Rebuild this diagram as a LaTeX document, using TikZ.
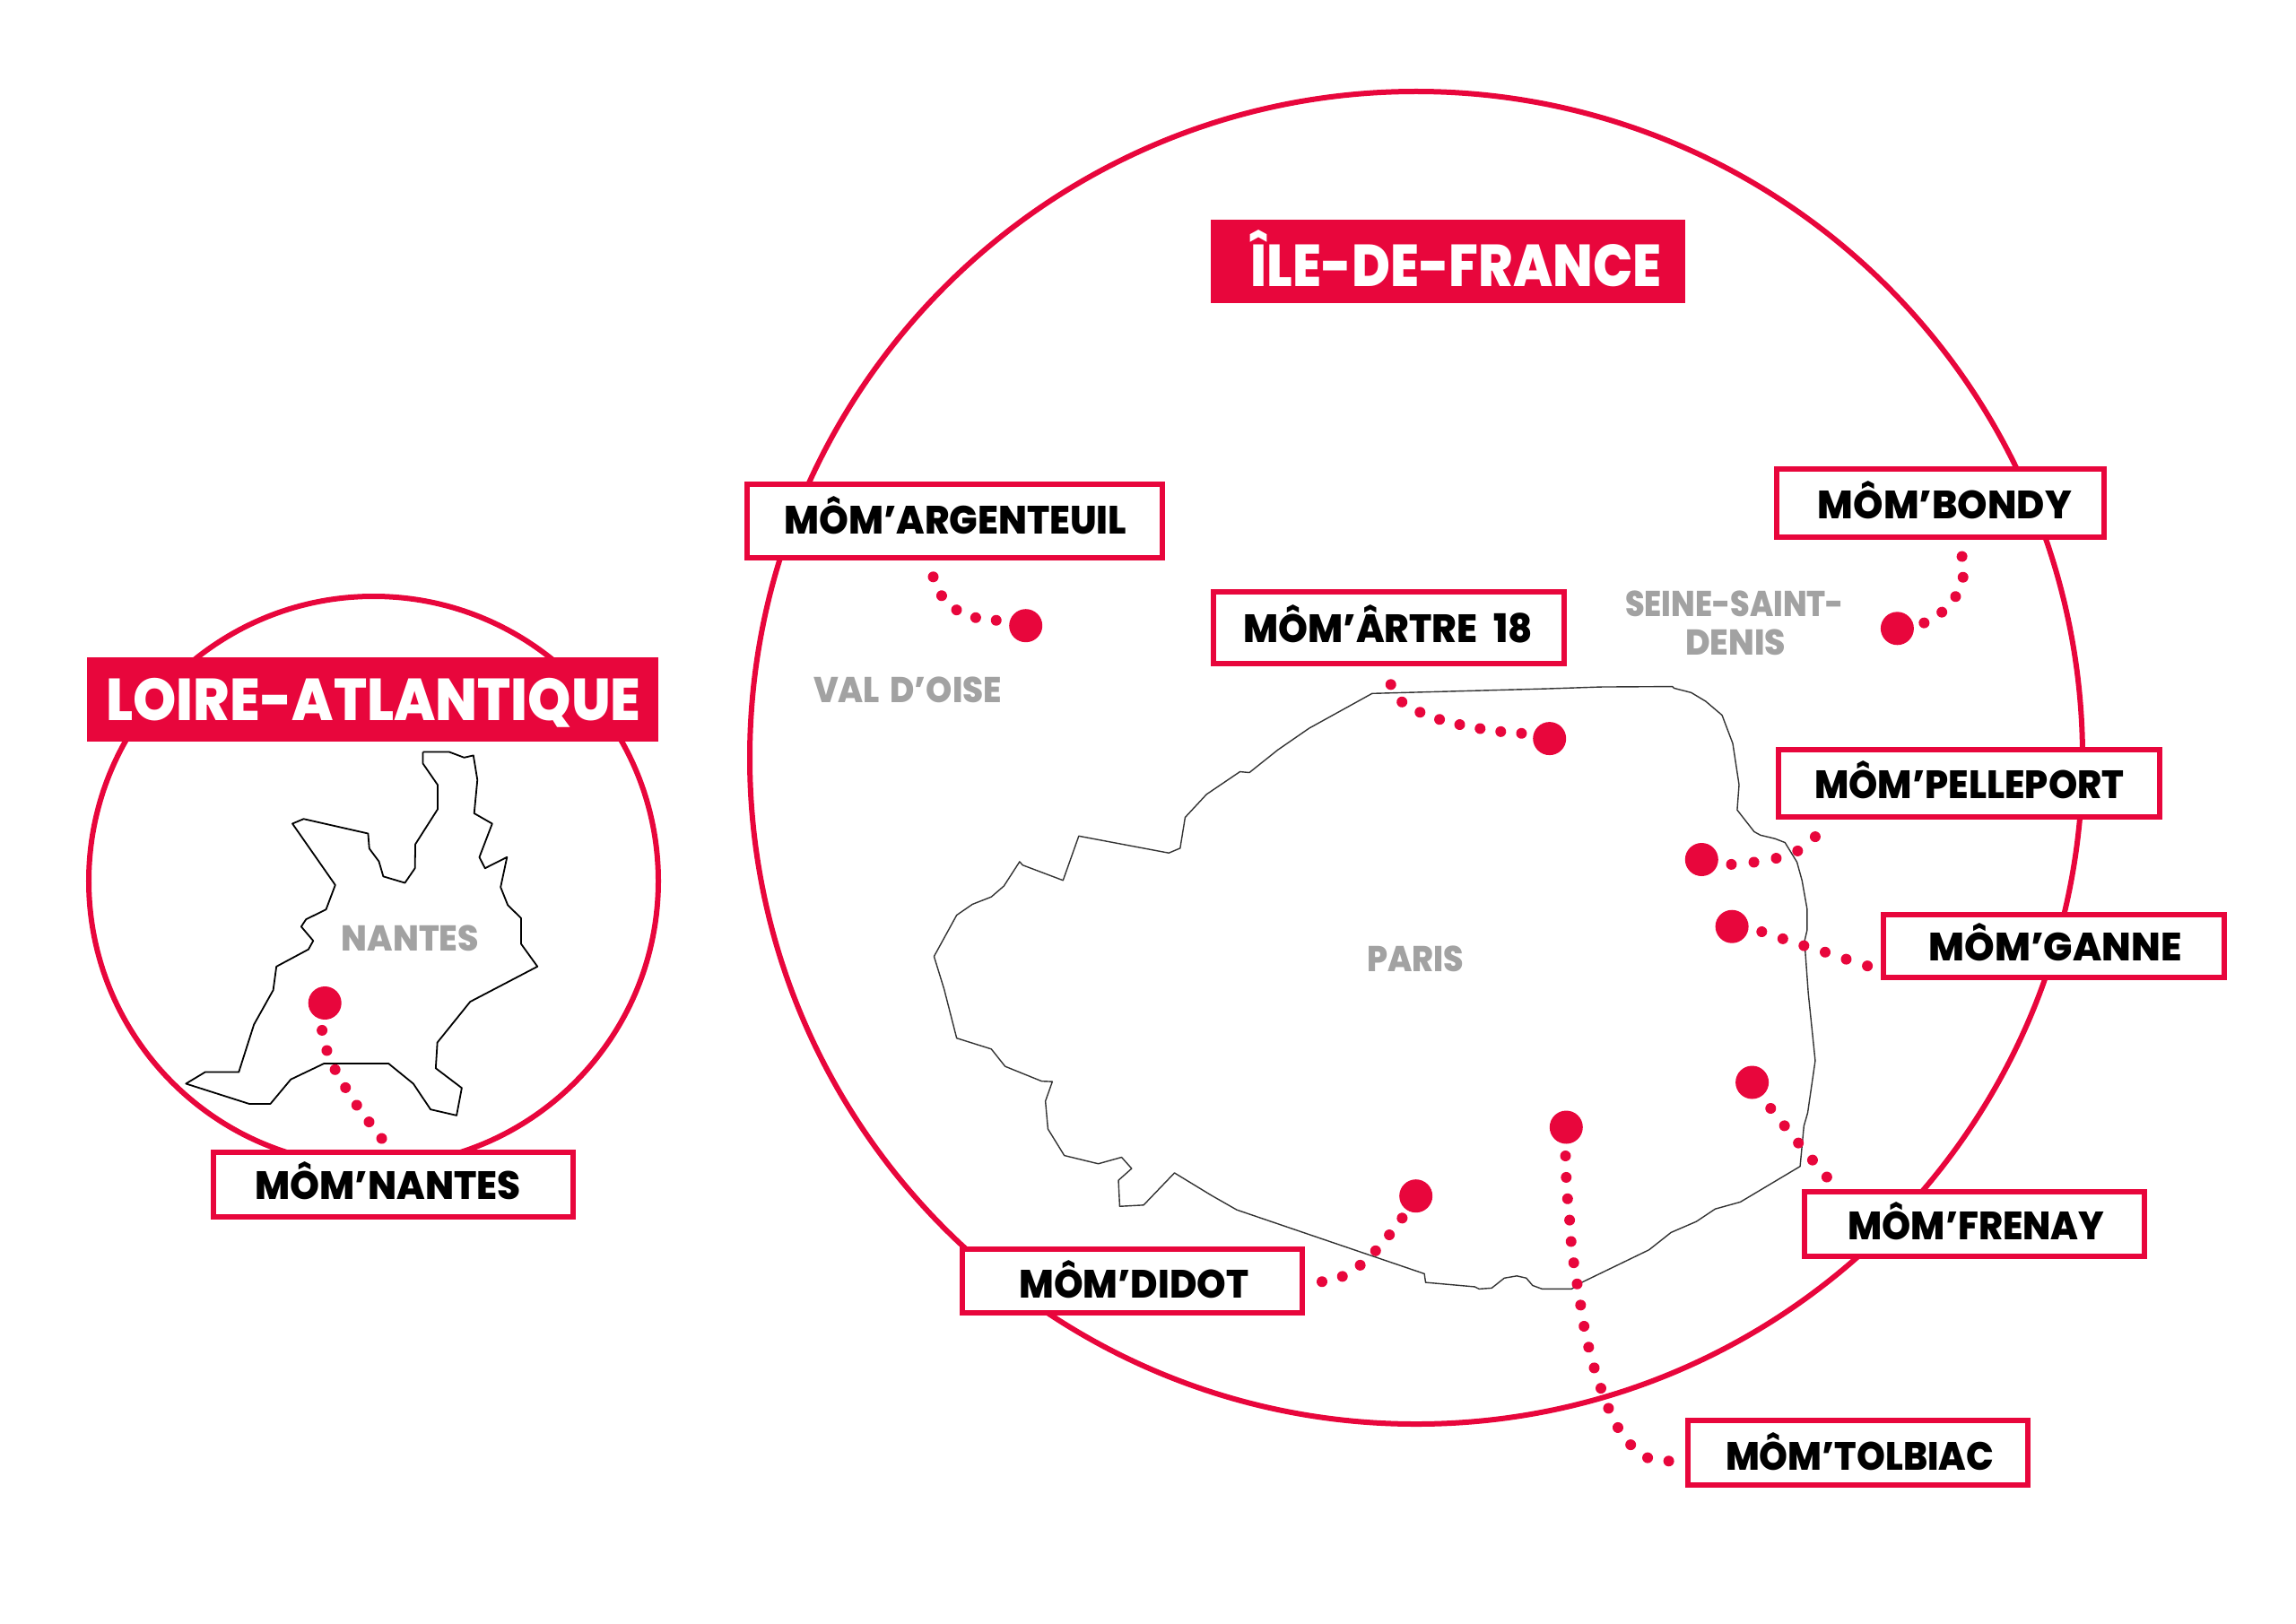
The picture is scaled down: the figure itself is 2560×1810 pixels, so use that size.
\documentclass[tikz,border=0pt]{standalone}
\usepackage{fontspec}
\usepackage{graphicx}
\setmainfont{Poppins}[BoldFont={Poppins ExtraBold}]
\definecolor{momred}{HTML}{E8063C}
\definecolor{momgrey}{HTML}{A2A2A2}
\newcommand{\momfit}[4]{\hspace*{#1bp}\resizebox{#2bp}{\height}{\fontsize{#3bp}{#3bp}\selectfont\bfseries #4}}
\tikzset{
  ring/.style={draw=momred,line width=6bp,circle,minimum size=#1,inner sep=0pt},
  momlabel/.style n args={3}{draw=momred,fill=white,line width=6bp,rectangle,inner sep=0pt,minimum width=#1,minimum height=#2,text height=#3,text depth=0pt,text=black},
  banner/.style n args={3}{fill=momred,rectangle,inner sep=0pt,minimum width=#1,minimum height=#2,text height=#3,text depth=0pt,text=white},
  placename/.style={text=momgrey,inner sep=0pt,anchor=base},
  pin/.style={fill=momred,circle,inner sep=0pt,minimum size=37bp},
  dotline/.style 2 args={draw=momred,line width=12bp,line cap=round,dash pattern=on 0.01bp off #1bp,dash phase=#2bp},
  mapline/.style={draw=#1,line join=round},
}
\begin{document}
\begin{tikzpicture}[x=1bp,y=-1bp]
\useasboundingbox (0,0) rectangle (2560,1810);
% rings
\node[ring=1486bp] (ringidf) at (1579,845) {};
\node[ring=635bp] (ringloire) at (416.5,982.5) {};
% Paris outline
\begin{scope}[shift={(1000,720)},x=0.7018bp,y=-0.4847bp]
\draw[mapline={black!80},line width=1.4bp] plot[sharp plot] coordinates {
(755,110) (1035,99) (1118,95) (1232,94) (1235,98) (1262,108) (1285,128) (1311,160) (1328,225) (1338,320) (1335,378) (1362,428) (1372,436) (1395,444) (1411,453) (1430,498) (1438,540) (1446,605) (1446,655) (1442,680) (1448,800) (1459,955) (1447,1075) (1441,1105) (1435,1198) (1340,1280) (1300,1296) (1270,1325) (1230,1350) (1195,1390) (1088,1465) (1072,1480) (1025,1480) (1010,1472) (1000,1455) (985,1450) (965,1455) (945,1478) (925,1480) (918,1475) (840,1465) (838,1445) (540,1298) (500,1265) (441,1213) (392,1287) (354,1290) (352,1230) (373,1203) (357,1177) (320,1192) (266,1173) (240,1112) (236,1048) (247,1003) (230,1002) (172,968) (150,928) (95,903) (75,790) (59,715) (95,620) (120,595) (150,578) (170,553) (195,497) (200,505) (264,540) (289,438) (432,477) (450,466) (458,395) (492,342) (545,290) (560,292) (605,240) (655,190) (755,110)};
\end{scope}
% Loire outline
\begin{scope}[shift={(60,640)},x=0.4464bp,y=-0.4785bp]
\draw[mapline=black,line width=1.8bp] plot[sharp plot] coordinates {
(922,415) (988,415) (1025,428) (1048,423) (1058,480) (1050,558) (1095,582) (1063,660) (1077,686) (1132,660) (1116,730) (1134,772) (1167,802) (1167,862) (1208,915) (1040,997) (958,1092) (954,1152) (1019,1198) (1006,1262) (941,1248) (898,1188) (836,1141) (675,1141) (592,1178) (541,1235) (488,1235) (330,1188) (378,1161) (462,1161) (500,1050) (548,970) (556,915) (636,875) (648,855) (618,822) (630,805) (680,782) (703,725) (596,582) (624,571) (785,605) (788,640) (812,670) (823,705) (877,720) (902,686) (903,630) (959,548) (959,492) (922,442) (922,415)};
\end{scope}
% banners
\node[banner={529bp}{92.7bp}{55.4bp}] (idf) at (1614.5,291.3) {\momfit{18}{458}{66}{ÎLE-DE-FRANCE}};
\node[banner={637bp}{94bp}{46bp}] (loire) at (415.5,780) {\momfit{2}{596}{66}{LOIRE-ATLANTIQUE}};
% labels
\node[momlabel={463.3bp}{81.7bp}{27.6bp}] (argenteuil) at (1064.7,581.2) {\momfit{1}{382}{44}{MÔM’ARGENTEUIL}};
\node[momlabel={390.7bp}{80.6bp}{33.4bp}] (artre) at (1548.3,700) {\momfit{-1}{323}{44}{MÔM’ÂRTRE\hspace{0.25em} 18}};
\node[momlabel={365bp}{76.5bp}{35.6bp}] (bondy) at (2163.9,560.8) {\momfit{9}{283}{44}{MÔM’BONDY}};
\node[momlabel={425bp}{74.7bp}{33.4bp}] (pelleport) at (2195.2,873.3) {\momfit{1}{345}{44}{MÔM’PELLEPORT}};
\node[momlabel={379.8bp}{70.4bp}{32.6bp}] (ganne) at (2290,1055.2) {\momfit{3}{282}{44}{MÔM’GANNE}};
\node[momlabel={379bp}{72bp}{34.8bp}] (frenay) at (2201,1365.3) {\momfit{5}{286}{44}{MÔM’FRENAY}};
\node[momlabel={379.6bp}{72bp}{38.4bp}] (tolbiac) at (2071.5,1620.3) {\momfit{4}{299}{44}{MÔM’TOLBIAC}};
\node[momlabel={379bp}{71bp}{38.8bp}] (didot) at (1262.3,1428.3) {\momfit{4}{256}{44}{MÔM’DIDOT}};
\node[momlabel={401bp}{72bp}{32bp}] (nantes) at (438.5,1321) {\momfit{-12}{296}{44}{MÔM’NANTES}};
% place names
\node[placename] (paris) at (1578,1083.5) {\momfit{0}{108}{40}{PARIS}};
\node[placename] (nantesname) at (457.5,1060.5) {\momfit{0}{153}{40}{NANTES}};
\node[placename] (valdoise) at (1012,783.5) {\momfit{0}{210}{40}{VAL\hspace{0.12em} D’OISE}};
\node[placename] (seine) at (1934,687) {\momfit{0}{244}{40}{SEINE-SAINT-}};
\node[placename] (denis) at (1935,730.5) {\momfit{0}{112}{40}{DENIS}};
% pins
\node[pin] (pinargenteuil) at (1143.7,697.7) {};
\node[pin] (pinartre) at (1727.7,823.6) {};
\node[pin] (pinbondy) at (2115.4,700.8) {};
\node[pin] (pinpelleport) at (1897.3,958.5) {};
\node[pin] (pinganne) at (1931.1,1033.2) {};
\node[pin] (pinfrenay) at (1953.6,1207) {};
\node[pin] (pintolbiac) at (1746.3,1257) {};
\node[pin] (pindidot) at (1578.7,1333.7) {};
\node[pin] (pinnantes) at (362.2,1118.5) {};
% free ends of the dotted connectors
\coordinate (endargenteuil) at (1040.3,642.7);
\coordinate (endartre) at (1550.4,762.7);
\coordinate (endbondy) at (2187.5,619.9);
\coordinate (endpelleport) at (2024.2,932.8);
\coordinate (endganne) at (2082.3,1077.2);
\coordinate (endfrenay) at (2037,1312.7);
\coordinate (endtolbiac) at (1861,1629.3);
\coordinate (enddidot) at (1473.9,1429.3);
\coordinate (endnantes) at (426,1270.1);
% dotted connectors
\draw[dotline={23.05}{12.6}] plot[smooth,tension=.5] coordinates {(pinargenteuil.center) (1110.7,691.7) (1087.7,688.7) (1066.3,680) (1049.7,664) (endargenteuil)};
\draw[dotline={23.2}{14.6}] plot[smooth,tension=.5] coordinates {(pinartre.center) (1696.4,817.8) (1672.8,815.8) (1649.9,812.4) (1626.9,807.9) (1604.6,802.1) (1582.3,793.8) (1562.5,782.2) (endartre)};
\draw[dotline={23.2}{15.8}] plot[smooth,tension=.5] coordinates {(pinbondy.center) (2145.4,694.6) (2165.2,682.6) (2180.5,665.1) (2188.8,643.2) (endbondy)};
\draw[dotline={25.25}{16.9}] plot[smooth,tension=.5] coordinates {(pinpelleport.center) (1930.5,963.9) (1956,961.4) (1981.5,956.8) (2005.1,948.5) (endpelleport)};
\draw[dotline={24.75}{15.8}] plot[smooth,tension=.5] coordinates {(pinganne.center) (1964.3,1039) (1987.9,1046.9) (2010.8,1054.4) (2035.1,1061.8) (2058.7,1069.7) (endganne)};
\draw[dotline={24.7}{13.8}] plot[smooth,tension=.5] coordinates {(pinfrenay.center) (1974.3,1236) (1989.6,1255.3) (2004.9,1274.3) (2021,1293.7) (endfrenay)};
\draw[dotline={23.9}{15.8}] plot[smooth,tension=.5] coordinates {(pintolbiac.center) (1745.5,1289) (1746.3,1313) (1747.8,1336.7) (1750.1,1360.7) (1751.7,1384.3) (1754.7,1408.3) (1758.5,1432) (1762.4,1455.7) (1766.2,1479.3) (1771.5,1503) (1777.7,1526) (1785.3,1549) (1793.7,1571) (1804.4,1592.7) (1819,1612) (1837.3,1625.7) (endtolbiac)};
\draw[dotline={23.5}{18}] plot[smooth,tension=.5] coordinates {(pindidot.center) (1563.4,1358.3) (1548.9,1377.3) (1533.6,1395) (1516.8,1410.7) (1496.9,1423.3) (enddidot)};
\draw[dotline={23.2}{15.8}] plot[smooth,tension=.5] coordinates {(pinnantes.center) (359.1,1149) (364.5,1171.6) (373.8,1193.1) (385.4,1213.2) (398,1232.8) (411.8,1251.5) (endnantes)};
\end{tikzpicture}
\end{document}
